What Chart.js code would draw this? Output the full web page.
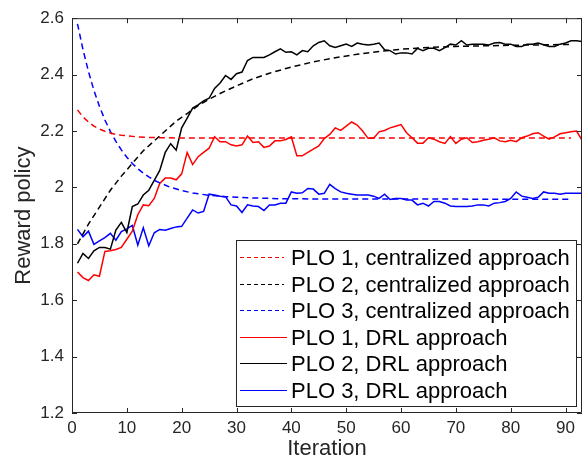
<!DOCTYPE html>
<html>
<head>
<meta charset="utf-8">
<script src="https://cdn.jsdelivr.net/npm/chart.js@4.4.1/dist/chart.umd.min.js"></script>
<style>
    html, body { margin: 0; padding: 0; background: #fff; }
    #wrap { width: 586px; height: 462px; }
</style>
</head>
<body>
<div id="wrap"><canvas id="chartReward" width="586" height="462"></canvas></div>
<script>
// Iteraciones del enfoque DRL (1..93)
const iteracionesDRL = Array.from({ length: 93 }, (_, i) => i + 1);

const drlPLO1 = [
    1.70, 1.68, 1.67, 1.69, 1.685, 1.773, 1.775, 1.78, 1.787, 1.816,
    1.845, 1.903, 1.938, 1.935, 1.961, 2.014, 2.033, 2.033, 2.027, 2.048,
    2.124, 2.081, 2.109, 2.124, 2.139, 2.18, 2.162, 2.162, 2.151, 2.147,
    2.151, 2.182, 2.159, 2.162, 2.142, 2.147, 2.165, 2.165, 2.17, 2.179,
    2.112, 2.112, 2.124, 2.136, 2.147, 2.173, 2.188, 2.211, 2.202, 2.217,
    2.232, 2.221, 2.2, 2.174, 2.174, 2.197, 2.202, 2.211, 2.217, 2.223,
    2.194, 2.176, 2.157, 2.157, 2.176, 2.171, 2.162, 2.156, 2.18, 2.156,
    2.171, 2.176, 2.159, 2.162, 2.167, 2.171, 2.176, 2.165, 2.162, 2.167,
    2.162, 2.176, 2.182, 2.19, 2.194, 2.182, 2.171, 2.179, 2.19, 2.194,
    2.197, 2.2, 2.168
];

const drlPLO2 = [
    1.731, 1.766, 1.748, 1.775, 1.787, 1.787, 1.781, 1.849, 1.876, 1.84,
    1.932, 1.941, 1.973, 1.99, 2.025, 2.06, 2.124, 2.155, 2.132, 2.211,
    2.246, 2.281, 2.293, 2.307, 2.316, 2.351, 2.37, 2.397, 2.383, 2.403,
    2.409, 2.45, 2.461, 2.461, 2.461, 2.47, 2.481, 2.491, 2.479, 2.481,
    2.47, 2.485, 2.481, 2.502, 2.514, 2.52, 2.502, 2.496, 2.502, 2.508,
    2.5, 2.512, 2.508, 2.505, 2.508, 2.512, 2.488, 2.485, 2.473, 2.477,
    2.477, 2.473, 2.493, 2.485, 2.493, 2.493, 2.485, 2.496, 2.508, 2.505,
    2.52, 2.505, 2.508, 2.508, 2.508, 2.505, 2.512, 2.514, 2.508, 2.508,
    2.5, 2.5, 2.508, 2.508, 2.512, 2.506, 2.5, 2.5, 2.508, 2.512,
    2.52, 2.52, 2.517
];

const drlPLO3 = [
    1.851, 1.825, 1.845, 1.798, 1.81, 1.822, 1.837, 1.813, 1.843, 1.853,
    1.865, 1.795, 1.857, 1.793, 1.839, 1.851, 1.848, 1.854, 1.86, 1.862,
    1.891, 1.92, 1.909, 1.915, 1.976, 1.973, 1.969, 1.967, 1.938, 1.934,
    1.911, 1.938, 1.934, 1.932, 1.918, 1.938, 1.938, 1.944, 1.944, 1.984,
    1.979, 1.981, 1.996, 1.994, 1.976, 1.979, 2.011, 1.996, 1.984, 1.979,
    1.976, 1.973, 1.973, 1.973, 1.969, 1.961, 1.976, 1.957, 1.961, 1.961,
    1.955, 1.955, 1.938, 1.944, 1.934, 1.95, 1.95, 1.944, 1.934, 1.932,
    1.932, 1.932, 1.934, 1.938, 1.938, 1.934, 1.944, 1.946, 1.95, 1.961,
    1.984, 1.969, 1.965, 1.961, 1.965, 1.984, 1.979, 1.979, 1.976, 1.979,
    1.979, 1.979, 1.979
];

// Enfoque centralizado (curvas suaves)
const centralIterPLO1 = [1, 2, 3, 4, 5, 6, 7, 8, 9, 10, 12, 14, 17, 20, 91];
const centralPLO1 = [2.275, 2.250, 2.232, 2.217, 2.207, 2.199, 2.193, 2.188, 2.185, 2.183, 2.179, 2.177, 2.176, 2.175, 2.175];

const centralIterPLO2 = [1, 3, 5, 7, 9, 11, 13, 15, 17, 19, 21, 23, 25, 27, 30, 33, 36, 40, 44, 48, 52, 56, 60, 65, 70, 80, 91];
const centralPLO2 = [1.80, 1.87, 1.93, 1.99, 2.04, 2.085, 2.13, 2.165, 2.20, 2.235, 2.262, 2.29, 2.313, 2.333, 2.36, 2.385, 2.405, 2.427, 2.445, 2.46, 2.472, 2.482, 2.49, 2.496, 2.50, 2.504, 2.507];

const centralIterPLO3 = [1, 2, 3, 4, 5, 6, 7, 8, 9, 10, 11, 12, 13, 14, 15, 16, 18, 20, 22, 25, 28, 32, 38, 45, 91];
const centralPLO3 = [2.58, 2.489, 2.411, 2.344, 2.288, 2.239, 2.198, 2.163, 2.133, 2.107, 2.085, 2.066, 2.051, 2.037, 2.025, 2.016, 2.0, 1.989, 1.98, 1.972, 1.967, 1.963, 1.960, 1.959, 1.958];

const etiquetas = [
    'PLO 1, centralized approach',
    'PLO 2, centralized approach',
    'PLO 3, centralized approach',
    'PLO 1, DRL approach',
    'PLO 2, DRL approach',
    'PLO 3, DRL approach'
];

const ROJO = '#ff0000', NEGRO = '#000000', AZUL = '#0000ff';
const COLOR_EJE = '#262626';
const FUENTE = '"Liberation Sans", Arial, Helvetica, sans-serif';

function puntos(xs, ys) {
    return xs.map((x, i) => ({ x, y: ys[i] }));
}

function serie(label, xs, ys, color, dash) {
    return {
        label,
        data: puntos(xs, ys),
        borderColor: color,
        backgroundColor: color,
        borderWidth: 1.5,
        borderDash: dash,
        pointRadius: 0,
        tension: 0,
        fill: false
    };
}

// Marco del eje con ticks hacia adentro (estilo MATLAB)
const marcoEjes = {
    id: 'marcoEjes',
    afterDatasetsDraw(chart) {
        const { ctx, chartArea: a, scales } = chart;
        const xs = scales.x, ys = scales.y;
        ctx.save();
        ctx.strokeStyle = COLOR_EJE;
        ctx.lineWidth = 1;
        ctx.setLineDash([]);
        ctx.beginPath();
        ctx.rect(a.left + 0.5, a.top + 0.5, a.right - a.left - 1, a.bottom - a.top - 1);
        xs.ticks.forEach(t => {
            const px = Math.round(xs.getPixelForValue(t.value)) + 0.5;
            ctx.moveTo(px, a.bottom);
            ctx.lineTo(px, a.bottom - 5);
            ctx.moveTo(px, a.top);
            ctx.lineTo(px, a.top + 5);
        });
        ys.ticks.forEach(t => {
            const py = Math.round(ys.getPixelForValue(t.value)) + 0.5;
            ctx.moveTo(a.left, py);
            ctx.lineTo(a.left + 5, py);
            ctx.moveTo(a.right, py);
            ctx.lineTo(a.right - 5, py);
        });
        ctx.stroke();
        ctx.restore();
    }
};

// Leyenda dentro del area, abajo a la derecha
const leyenda = {
    id: 'leyenda',
    afterDraw(chart) {
        const { ctx, chartArea: a } = chart;
        const w = 340, h = 166;
        const x0 = Math.round(a.right - 6 - w);
        const y0 = Math.round(a.bottom - 7 - h);
        ctx.save();
        ctx.fillStyle = '#ffffff';
        ctx.fillRect(x0, y0, w, h);
        ctx.strokeStyle = COLOR_EJE;
        ctx.lineWidth = 1;
        ctx.strokeRect(x0 + 0.5, y0 + 0.5, w, h);
        chart.data.datasets.forEach((ds, i) => {
            const cy = Math.round(y0 + 17 + i * 26.6) + 0.5;
            const dashed = ds.borderDash && ds.borderDash.length;
            ctx.beginPath();
            ctx.setLineDash(dashed ? [4, 3] : []);
            ctx.strokeStyle = ds.borderColor;
            ctx.lineWidth = 1;
            ctx.moveTo(x0 + 4, cy);
            ctx.lineTo(x0 + (dashed ? 48 : 51), cy);
            ctx.stroke();
            ctx.setLineDash([]);
            ctx.fillStyle = '#000000';
            ctx.font = '22px ' + FUENTE;
            ctx.textBaseline = 'middle';
            ctx.textAlign = 'left';
            ctx.fillText(ds.label, x0 + 55, cy + 1);
        });
        ctx.restore();
    }
};

const ctx = document.getElementById('chartReward').getContext('2d');
const chartReward = new Chart(ctx, {
    type: 'line',
    data: {
        datasets: [
            serie(etiquetas[0], centralIterPLO1, centralPLO1, ROJO, [6, 4]),
            serie(etiquetas[1], centralIterPLO2, centralPLO2, NEGRO, [6, 4]),
            serie(etiquetas[2], centralIterPLO3, centralPLO3, AZUL, [6, 4]),
            serie(etiquetas[3], iteracionesDRL, drlPLO1, ROJO, []),
            serie(etiquetas[4], iteracionesDRL, drlPLO2, NEGRO, []),
            serie(etiquetas[5], iteracionesDRL, drlPLO3, AZUL, [])
        ]
    },
    options: {
        responsive: false,
        animation: false,
        devicePixelRatio: 1,
        layout: { padding: { top: 12, right: 4, left: 0, bottom: 0 } },
        plugins: {
            legend: { display: false },
            tooltip: { enabled: false }
        },
        scales: {
            x: {
                type: 'linear',
                min: 0,
                max: 93,
                grid: { display: false, drawTicks: false },
                border: { display: false },
                ticks: {
                    stepSize: 10,
                    includeBounds: false,
                    padding: 5,
                    color: COLOR_EJE,
                    font: { family: FUENTE, size: 17 },
                    maxRotation: 0
                },
                title: {
                    display: true,
                    text: 'Iteration',
                    color: COLOR_EJE,
                    font: { family: FUENTE, size: 22 },
                    padding: { top: 0, bottom: 0 }
                },
                afterFit(scale) { scale.height = 49; }
            },
            y: {
                min: 1.2,
                max: 2.6,
                grid: { display: false, drawTicks: false },
                border: { display: false },
                ticks: {
                    stepSize: 0.2,
                    padding: 8,
                    color: COLOR_EJE,
                    font: { family: FUENTE, size: 17 },
                    callback: v => String(Number(v.toFixed(1)))
                },
                title: {
                    display: true,
                    text: 'Reward policy',
                    color: COLOR_EJE,
                    font: { family: FUENTE, size: 22 },
                    padding: { top: 11, bottom: 0 }
                },
                afterFit(scale) { scale.width = 72; }
            }
        }
    },
    plugins: [marcoEjes, leyenda]
});
</script>
</body>
</html>
